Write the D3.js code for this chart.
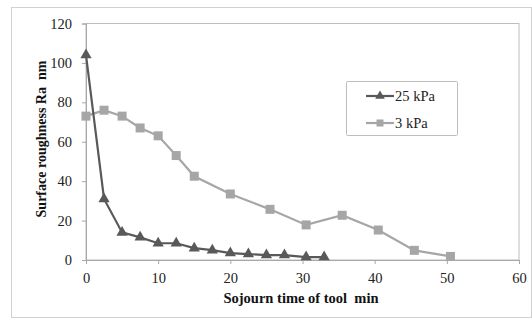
<!DOCTYPE html>
<html><head><meta charset="utf-8">
<script src="https://cdn.jsdelivr.net/npm/d3@7"></script>
<style>body{margin:0;background:#fff}svg{display:block}</style>
</head><body>
<script>
const x25 = [0, 2.5, 5, 7.5, 10, 12.5, 15, 17.5, 20, 22.5, 25, 27.5, 30.5, 33];
const y25 = [104, 31, 14, 11.5, 8.5, 8.5, 6, 5, 3.5, 3, 2.5, 2.5, 1.5, 1.5];
const x3 = [0, 2.5, 5, 7.5, 10, 12.5, 15, 20, 25.5, 30.5, 35.5, 40.5, 45.5, 50.5];
const y3 = [73, 76, 73, 67, 63, 53, 42.5, 33.5, 25.7, 17.8, 22.7, 15.2, 4.9, 1.8];
const xTicks = [0, 10, 20, 30, 40, 50, 60];
const yTicks = [0, 20, 40, 60, 80, 100, 120];
const seriesNames = ["25 kPa", "3 kPa"];

const W = 532, H = 329;
const FONT = "'Liberation Serif'";
const svg = d3.select("body").append("svg").attr("width", W).attr("height", H);
svg.append("rect").attr("x", 11.5).attr("y", 7.5).attr("width", 520).attr("height", 310)
  .attr("fill", "#fff").attr("stroke", "#d0d0d0").attr("stroke-width", 1);

const L = 86, R = 519, T = 23.5, B = 260;
const x = d3.scaleLinear().domain([0, 60]).range([L, R]);
const y = d3.scaleLinear().domain([0, 120]).range([B, T]);

svg.append("rect").attr("x", L).attr("y", T).attr("width", R - L).attr("height", B - T)
  .attr("fill", "none").attr("stroke", "#bdbdbd");

const ya = svg.append("g").attr("transform", `translate(${L},0)`)
  .call(d3.axisLeft(y).tickValues(yTicks).tickSize(4).tickPadding(10));
const xa = svg.append("g").attr("transform", `translate(0,${B})`)
  .call(d3.axisBottom(x).tickValues(xTicks).tickSize(4).tickPadding(9));
[ya, xa].forEach(g => {
  g.selectAll("path,line").attr("stroke", "#a8a8a8");
  g.selectAll("text").style("font-family", FONT).style("font-size", "14.5px").attr("fill", "#222");
});

svg.append("text").attr("x", 301).attr("y", 303).attr("text-anchor", "middle")
  .style("font-family", FONT).style("font-weight", "bold").style("font-size", "14.5px").attr("fill", "#111")
  .attr("xml:space", "preserve").text("Sojourn time of tool  min");
svg.append("text").attr("transform", "translate(46,139) rotate(-90)").attr("text-anchor", "middle")
  .style("font-family", FONT).style("font-weight", "bold").style("font-size", "14px").attr("fill", "#111")
  .attr("xml:space", "preserve").text("Surface roughness Ra  nm");

const line = d3.line().x(d => x(d[0])).y(d => y(d[1]));
const d25 = x25.map((v, i) => [v, y25[i]]);
const d3k = x3.map((v, i) => [v, y3[i]]);
const c25 = "#595959", c3 = "#a6a6a6";

svg.append("path").datum(d3k).attr("d", line).attr("fill", "none").attr("stroke", c3).attr("stroke-width", 2.2);
svg.selectAll(".sq").data(d3k).enter().append("rect")
  .attr("x", d => x(d[0]) - 4.5).attr("y", d => y(d[1]) - 4.5).attr("width", 9).attr("height", 9).attr("fill", c3);

svg.append("path").datum(d25).attr("d", line).attr("fill", "none").attr("stroke", c25).attr("stroke-width", 2.2);
const tri = d3.symbol().type(d3.symbolTriangle).size(55);
svg.selectAll(".tr").data(d25).enter().append("path")
  .attr("transform", d => `translate(${x(d[0])},${y(d[1])})`).attr("d", tri).attr("fill", c25);

const lg = svg.append("g");
lg.append("rect").attr("x", 346.5).attr("y", 81.5).attr("width", 111).attr("height", 54)
  .attr("fill", "#fff").attr("stroke", "#bdbdbd").attr("rx", 1);
const items = [{n: seriesNames[0], c: c25, s: "t", yy: 96}, {n: seriesNames[1], c: c3, s: "s", yy: 123}];
items.forEach(it => {
  lg.append("line").attr("x1", 366).attr("x2", 394).attr("y1", it.yy).attr("y2", it.yy)
    .attr("stroke", it.c).attr("stroke-width", 2.2);
  if (it.s === "t") lg.append("path").attr("transform", `translate(380,${it.yy})`)
    .attr("d", d3.symbol().type(d3.symbolTriangle).size(40)).attr("fill", it.c);
  else lg.append("rect").attr("x", 376.5).attr("y", it.yy - 3.5).attr("width", 7).attr("height", 7).attr("fill", it.c);
  lg.append("text").attr("x", 395).attr("y", it.yy + 4.5)
    .style("font-family", FONT).style("font-size", "14.5px").attr("fill", "#222").text(it.n);
});
</script>
</body></html>
